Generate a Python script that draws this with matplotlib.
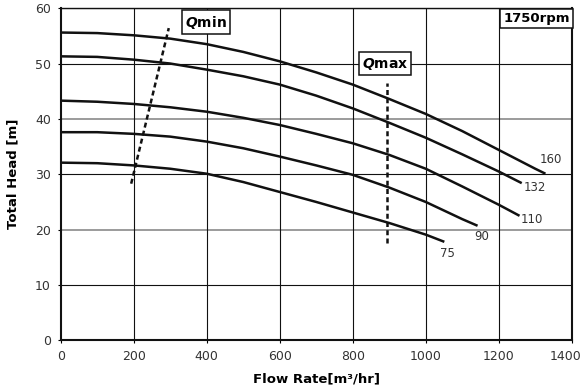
import matplotlib
matplotlib.use("Agg")
import matplotlib.pyplot as plt
import matplotlib.transforms as mtransforms
from matplotlib import font_manager

plt.rcParams['font.family'] = ['DejaVu Sans']
plt.rcParams['mathtext.fontset'] = 'custom'
plt.rcParams['mathtext.it'] = 'DejaVu Sans:bold:italic'
plt.rcParams['mathtext.rm'] = 'DejaVu Sans:bold'

names = {f.name for f in font_manager.fontManager.ttflist}
narrow = 'Liberation Sans Narrow' if 'Liberation Sans Narrow' in names else 'DejaVu Sans'

# pump curves (flow m3/hr, head m), one per impeller / motor size
q160 = [0, 100, 200, 300, 400, 500, 600, 700, 800, 900, 1000, 1100, 1200, 1300, 1328]
h160 = [55.6, 55.5, 55.1, 54.5, 53.5, 52.1, 50.4, 48.4, 46.2, 43.6, 40.9, 37.8, 34.4, 31.0, 30.1]
q132 = [0, 100, 200, 300, 400, 500, 600, 700, 800, 900, 1000, 1100, 1200, 1263]
h132 = [51.3, 51.2, 50.7, 50.0, 48.9, 47.7, 46.2, 44.2, 41.9, 39.3, 36.6, 33.6, 30.5, 28.4]
q110 = [0, 100, 200, 300, 400, 500, 600, 700, 800, 900, 1000, 1100, 1200, 1257]
h110 = [43.3, 43.1, 42.7, 42.1, 41.3, 40.2, 38.9, 37.3, 35.6, 33.5, 31.0, 27.8, 24.5, 22.5]
q90 = [0, 100, 200, 300, 400, 500, 600, 700, 800, 900, 1000, 1100, 1142]
h90 = [37.6, 37.6, 37.3, 36.8, 35.9, 34.7, 33.2, 31.6, 29.9, 27.6, 25.0, 21.9, 20.7]
q75 = [0, 100, 200, 300, 400, 500, 600, 700, 800, 900, 1000, 1051]
h75 = [32.1, 32.0, 31.6, 31.0, 30.1, 28.6, 26.8, 25.0, 23.1, 21.2, 19.1, 17.8]

curves = [("160", q160, h160, (1343, 32.6)),
          ("132", q132, h132, (1300, 27.7)),
          ("110", q110, h110, (1291, 21.8)),
          ("90", q90, h90, (1154, 18.7)),
          ("75", q75, h75, (1060, 15.7))]

qmin_x = [193, 296]
qmin_y = [28.3, 56.4]
qmax_x = [895, 895]
qmax_y = [17.6, 46.5]

xticks = [0, 200, 400, 600, 800, 1000, 1200, 1400]
yticks = [0, 10, 20, 30, 40, 50, 60]

fig = plt.figure(figsize=(5.84, 3.89), dpi=100)
ax = fig.add_axes([0.104, 0.125, 0.875, 0.854])

for y in yticks[1:]:
    c = "#8a8a8a" if y in (20, 40) else "#111111"
    ax.axhline(y, color=c, lw=1.2 if y in (20, 40) else 0.8, zorder=1)
for x in xticks[1:-1]:
    ax.axvline(x, color="#111111", lw=0.8, zorder=1)

for name, q, h, pos in curves:
    ax.plot(q, h, color="#111111", lw=1.8, solid_capstyle="butt", zorder=3)
    ax.text(pos[0], pos[1], name, fontsize=8.5, color="#333333",
            ha="center", va="center", family=narrow)

ax.plot(qmin_x, qmin_y, color="#111111", lw=1.8, dashes=(2.0, 1.3), zorder=3)
ax.plot(qmax_x, qmax_y, color="#111111", lw=1.8, dashes=(2.0, 1.3), zorder=3)

box = dict(boxstyle="square,pad=0.22", fc="white", ec="#111111", lw=1.1)
ax.text(397, 57.5, r"$\mathit{Q}$min", fontsize=10, fontweight="bold",
        ha="center", va="center", bbox=box, zorder=5)
ax.text(889, 50.0, r"$\mathit{Q}$max", fontsize=10, fontweight="bold",
        ha="center", va="center", bbox=box, zorder=5)
ax.text(0.996, 0.988, "1750rpm", transform=ax.transAxes, fontsize=9.5,
        fontweight="bold", ha="right", va="top",
        bbox=dict(boxstyle="square,pad=0.25", fc="white", ec="#111111", lw=1.1), zorder=5)

ax.set_xlim(0, 1400)
ax.set_ylim(0, 60)
ax.set_xticks(xticks)
ax.set_yticks(yticks)
ax.tick_params(length=2, width=0.8, labelsize=9, labelcolor="#333333", pad=5)
for lab in ax.get_xticklabels() + ax.get_yticklabels():
    lab.set_family(narrow)

# last x tick label sits flush with the figure edge
last = ax.get_xticklabels()[-1]
last.set_horizontalalignment("right")
last.set_transform(last.get_transform() +
                   mtransforms.ScaledTranslation(10 / 100, 0, fig.dpi_scale_trans))

for side in ["left", "bottom", "right"]:
    ax.spines[side].set_linewidth(1.5)
ax.spines["top"].set_linewidth(1.0)
for s in ax.spines.values():
    s.set_color("#111111")

ax.set_xlabel("Flow Rate[m³/hr]", fontsize=9.5, fontweight="bold", labelpad=7,
              family=narrow)
ax.set_ylabel("Total Head [m]", fontsize=9.5, fontweight="bold", labelpad=11,
              family=narrow)

fig.savefig("out.png", dpi=100)
